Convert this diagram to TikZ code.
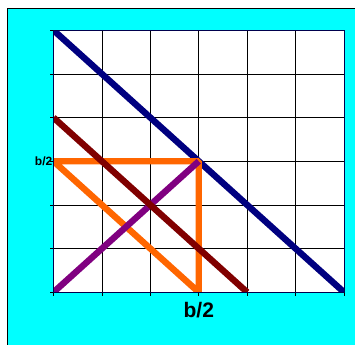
\documentclass[tikz,border=0pt]{standalone}
\usepackage{fontspec}
\setmainfont{Liberation Sans}
\definecolor{bgcyan}{RGB}{0,255,255}
\definecolor{navyline}{RGB}{0,0,128}
\definecolor{maroonline}{RGB}{128,0,0}
\definecolor{orangeline}{RGB}{255,102,0}
\definecolor{purpleline}{RGB}{128,0,128}
\tikzset{fatline/.style={line width=6.4pt},
  axislabel/.style={font=\bfseries}}
\begin{document}
\begin{tikzpicture}[x=48.42pt,y=43.67pt]
\useasboundingbox (-1.105,-1.207) rectangle (6.227,6.693);
\fill[bgcyan] (-0.94,-2) rectangle (7,6.487);
\draw[line width=1pt] (-0.94,-2)--(-0.94,6.487)--(7,6.487);
\fill[white] (0,0) rectangle (6,6);
\draw[line width=0.6pt,xstep=1,ystep=1] (0,0) grid (6,6);
\foreach \i in {0,...,6} {
  \draw[line width=0.6pt] (-0.07,\i)--(0,\i);
  \draw[line width=0.6pt] (\i,0)--(\i,-0.09);
}
% the lines
\begin{scope}
\clip (0,0) rectangle (6,6);
\draw[fatline,navyline] (0,6)--(6,0);
\draw[fatline,orangeline,line join=bevel] (0,3)--(3,3)--(3,0)--cycle;
\draw[fatline,purpleline] (0,0)--(3,3);
\draw[fatline,maroonline] (0,4)--(4,0);
\end{scope}
\draw[navyline!60!black,line width=0.8pt] (0,0) rectangle (6,6);
\node[axislabel,anchor=east,inner sep=1pt,font=\bfseries\fontsize{12}{12}\selectfont] (ylab) at (0,3) {b/2};
\node[axislabel,font=\bfseries\fontsize{21}{21}\selectfont] (xlab) at (3,-0.405) {b/2};
\end{tikzpicture}
\end{document}
